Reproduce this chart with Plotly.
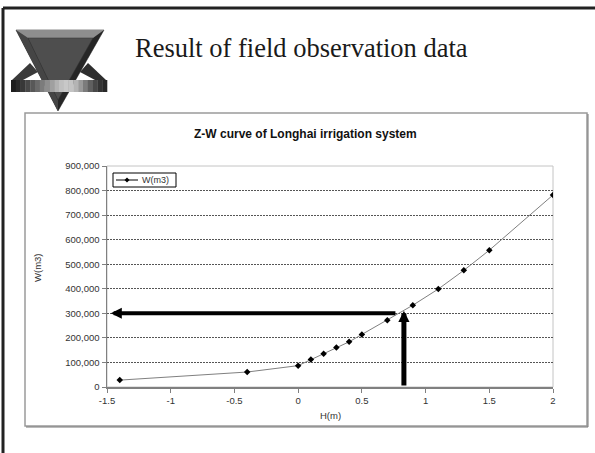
import plotly.graph_objects as go

# ---------------- data ----------------
H = [-1.4, -0.4, 0.0, 0.1, 0.2, 0.3, 0.4, 0.5, 0.7, 0.9, 1.1, 1.3, 1.5, 2.0]
W = [28000, 61000, 87000, 112000, 135000, 161000, 184000, 214000,
     272000, 333000, 399000, 475000, 557000, 782000]

x_tickvals = [-1.5, -1, -0.5, 0, 0.5, 1, 1.5, 2]
x_ticktext = ["-1.5", "-1", "-0.5", "0", "0.5", "1", "1.5", "2"]
y_tickvals = [0, 100000, 200000, 300000, 400000, 500000, 600000, 700000, 800000, 900000]

H_read = 0.83        # read-off level
W_read = 300000      # read-off volume
W_vert_tip = 311000  # tip of vertical arrow
H_horiz_start = 0.775
H_horiz_tip = -1.47

slide_title = "Result of field observation data"
chart_title = "Z-W curve of Longhai irrigation system"
series_name = "W(m3)"

# ---------------- layout geometry (pixels) ----------------
WIDTH, HEIGHT = 595, 453
ML, MR, MT, MB = 107, 42, 166, 66
PW = WIDTH - ML - MR
PH = HEIGHT - MT - MB


def px(xp):
    return (xp - ML) / PW


def py(yp):
    return (HEIGHT - MB - yp) / PH


def poly(points):
    return "M " + " L ".join(f"{px(a):.5f},{py(b):.5f}" for a, b in points) + " Z"


LINE_COLOR = "#808080"
MARKER_COLOR = "#000000"

fig = go.Figure()
fig.add_trace(go.Scatter(
    x=H, y=W, mode="lines+markers", name=series_name, showlegend=False,
    line=dict(color=LINE_COLOR, width=1),
    marker=dict(symbol="diamond", size=5, color=MARKER_COLOR),
))

shapes = []
# slide frame (top + left)
shapes.append(dict(type="line", xref="paper", yref="paper",
                   x0=px(3), y0=py(8), x1=px(WIDTH + 5), y1=py(8),
                   line=dict(color="#222222", width=3)))
shapes.append(dict(type="line", xref="paper", yref="paper",
                   x0=px(3), y0=py(8), x1=px(3), y1=py(HEIGHT + 5),
                   line=dict(color="#222222", width=3)))
# chart area box with slight shadow
shapes.append(dict(type="rect", xref="paper", yref="paper",
                   x0=px(25), y0=py(113), x1=px(587), y1=py(426),
                   line=dict(color="#9a9a9a", width=1.5)))
shapes.append(dict(type="line", xref="paper", yref="paper",
                   x0=px(26), y0=py(427), x1=px(588), y1=py(427),
                   line=dict(color="#777777", width=1)))
shapes.append(dict(type="line", xref="paper", yref="paper",
                   x0=px(588), y0=py(114), x1=px(588), y1=py(427),
                   line=dict(color="#777777", width=1)))
# plot area frame (light)
shapes.append(dict(type="rect", xref="paper", yref="paper",
                   x0=0, y0=0, x1=1, y1=1,
                   line=dict(color="#c4c4c4", width=1), layer="below"))

# ---- legend (drawn manually to match the compact Excel legend) ----
shapes.append(dict(type="rect", xref="paper", yref="paper",
                   x0=px(113), y0=py(173), x1=px(176), y1=py(187),
                   fillcolor="#ffffff", line=dict(color="#000000", width=1)))
shapes.append(dict(type="line", xref="paper", yref="paper",
                   x0=px(116), y0=py(180), x1=px(138), y1=py(180),
                   line=dict(color="#000000", width=1)))
shapes.append(dict(type="path", xref="paper", yref="paper",
                   path=poly([(127, 177.5), (129.5, 180), (127, 182.5), (124.5, 180)]),
                   fillcolor=MARKER_COLOR, line=dict(width=0)))

# ---- logo ----
shapes.append(dict(type="path", xref="paper", yref="paper",
                   path=poly([(12, 80), (23, 80), (38, 72), (30, 63)]),
                   fillcolor="#3a3a3a", line=dict(width=0)))
shapes.append(dict(type="path", xref="paper", yref="paper",
                   path=poly([(106, 80), (95, 80), (80, 72), (88, 63)]),
                   fillcolor="#2e2e2e", line=dict(width=0)))
shapes.append(dict(type="path", xref="paper", yref="paper",
                   path=poly([(16, 30), (104, 30), (58, 111)]),
                   fillcolor="#262626", line=dict(color="#1a1a1a", width=0.5)))
shapes.append(dict(type="path", xref="paper", yref="paper",
                   path=poly([(16, 30), (28, 38), (58, 100), (58, 111)]),
                   fillcolor="#454545", line=dict(width=0)))
shapes.append(dict(type="path", xref="paper", yref="paper",
                   path=poly([(16, 30), (104, 30), (93, 38), (28, 38)]),
                   fillcolor="#8e8e8e", line=dict(width=0)))
shapes.append(dict(type="path", xref="paper", yref="paper",
                   path=poly([(28, 38), (93, 38), (58, 100)]),
                   fillcolor="#4e4e4e", line=dict(color="#333333", width=0.5)))
bar_grays = [0x1e, 0x2a, 0x38, 0x48, 0x58, 0x6a, 0x7c, 0x8e, 0xa0, 0xb2,
             0xc0, 0xc8, 0xc4, 0xb4, 0x9a, 0x7c, 0x60, 0x48, 0x34, 0x28]
bx0, bx1 = 11, 107
step = (bx1 - bx0) / len(bar_grays)
for i, g in enumerate(bar_grays):
    shapes.append(dict(type="rect", xref="paper", yref="paper",
                       x0=px(bx0 + i * step), x1=px(bx0 + (i + 1) * step + 0.3),
                       y0=py(92), y1=py(80),
                       fillcolor=f"#{g:02x}{g:02x}{g:02x}", line=dict(width=0)))

annotations = [
    dict(xref="paper", yref="paper", x=px(133), y=py(48), xanchor="left", yanchor="middle",
         text=slide_title, showarrow=False,
         font=dict(family="Liberation Serif", size=26.5, color="#1a1a1a")),
    dict(xref="paper", yref="paper", x=px(305), y=py(134), xanchor="center", yanchor="middle",
         text="<b>" + chart_title + "</b>", showarrow=False,
         font=dict(family="Liberation Sans", size=12, color="#111111")),
    dict(xref="paper", yref="paper", x=px(37), y=py(268), xanchor="center", yanchor="middle",
         text=series_name, textangle=-90, showarrow=False,
         font=dict(family="Liberation Sans", size=9.5, color="#333333")),
    dict(xref="paper", yref="paper", x=px(330), y=py(415), xanchor="center", yanchor="middle",
         text="H(m)", showarrow=False,
         font=dict(family="Liberation Sans", size=9.5, color="#333333")),
    dict(xref="paper", yref="paper", x=px(140), y=py(180), xanchor="left", yanchor="middle",
         text=series_name, showarrow=False,
         font=dict(family="Liberation Sans", size=9, color="#333333")),
    # horizontal arrow (pointing to W axis)
    dict(x=H_horiz_tip, y=W_read, ax=H_horiz_start, ay=W_read,
         xref="x", yref="y", axref="x", ayref="y", text="", showarrow=True,
         arrowhead=2, arrowsize=0.55, arrowwidth=4, arrowcolor="#000000",
         standoff=0, startstandoff=0),
    # vertical arrow (from H axis up to the curve)
    dict(x=H_read, y=W_vert_tip, ax=H_read, ay=0,
         xref="x", yref="y", axref="x", ayref="y", text="", showarrow=True,
         arrowhead=2, arrowsize=0.45, arrowwidth=5, arrowcolor="#000000",
         standoff=0, startstandoff=0),
]

axis_font = dict(family="Liberation Sans", size=9.5, color="#333333")
fig.update_layout(
    width=WIDTH, height=HEIGHT,
    margin=dict(l=ML, r=MR, t=MT, b=MB),
    paper_bgcolor="#ffffff", plot_bgcolor="#ffffff",
    showlegend=False,
    hovermode=False,
    xaxis=dict(range=[-1.5, 2], tickvals=x_tickvals, ticktext=x_ticktext,
               showgrid=False, zeroline=False, showline=True,
               linecolor="#808080", linewidth=1.5,
               ticks="outside", ticklen=4, tickcolor="#808080", tickwidth=1,
               tickfont=axis_font, fixedrange=True),
    yaxis=dict(range=[0, 900000], tickvals=y_tickvals, tickformat=",d",
               showgrid=True, gridcolor="#555555", gridwidth=1, griddash="1.5px,1.5px",
               zeroline=False, showline=True,
               linecolor="#808080", linewidth=1.5,
               ticks="outside", ticklen=4, tickcolor="#808080", tickwidth=1,
               tickfont=axis_font, fixedrange=True),
    shapes=shapes,
    annotations=annotations,
)

fig.write_html(
    "out.html",
    config={"displayModeBar": False, "staticPlot": True},
    post_script="document.body.style.margin='0';document.body.style.overflow='hidden';",
)
